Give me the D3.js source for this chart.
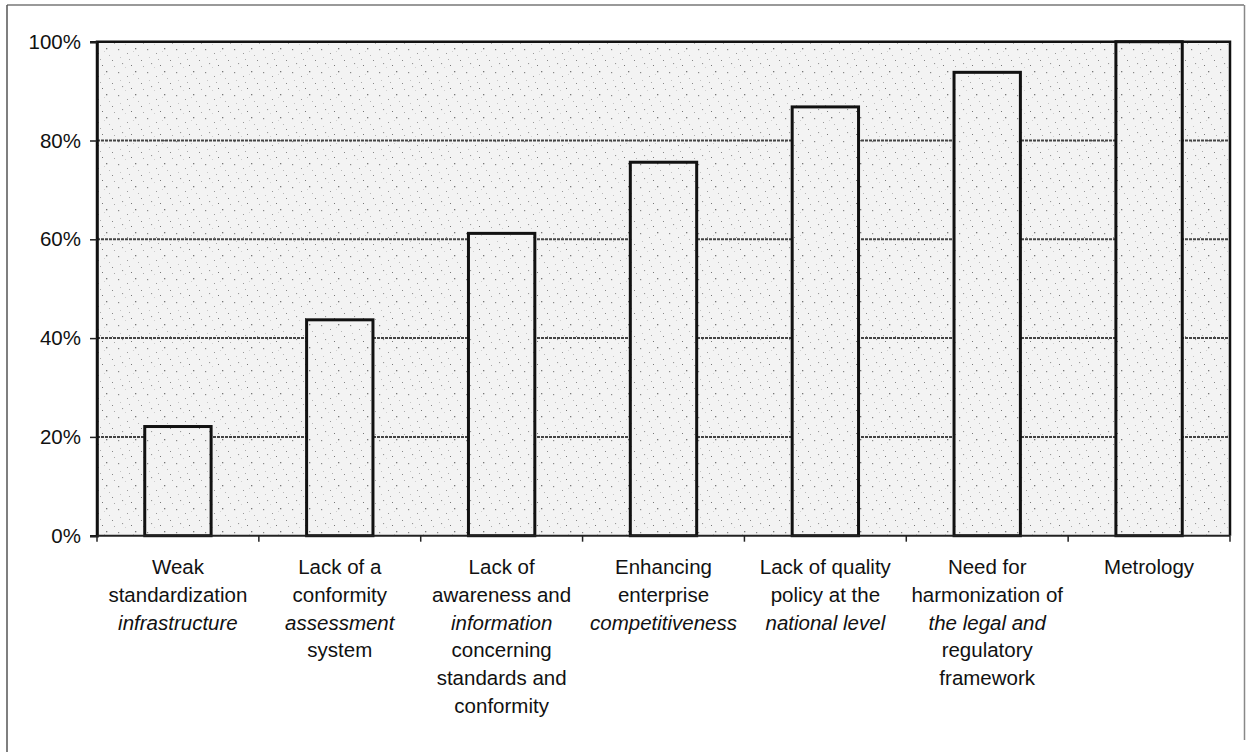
<!DOCTYPE html>
<html>
<head>
<meta charset="utf-8">
<script src="https://cdn.jsdelivr.net/npm/d3@7"></script>
<style>
  html, body { margin: 0; padding: 0; background: #fff; }
  svg { display: block; font-family: Arial, "Liberation Sans", sans-serif; }
</style>
</head>
<body>
<svg id="chart" width="1246" height="752"></svg>
<script>
// ---- data ----
const categories = [
  "Weak standardization infrastructure",
  "Lack of a conformity assessment system",
  "Lack of awareness and information concerning standards and conformity",
  "Enhancing enterprise competitiveness",
  "Lack of quality policy at the national level",
  "Need for harmonization of the legal and regulatory framework",
  "Metrology"
];
const values = [22.1, 43.7, 61.2, 75.6, 86.8, 93.8, 100];
const tickValues = [0, 20, 40, 60, 80, 100];
const tickLabels = ["0%", "20%", "40%", "60%", "80%", "100%"];
// label lines: [text, italic]
const labelLines = [
  [["Weak", false], ["standardization", false], ["infrastructure", true]],
  [["Lack of a", false], ["conformity", false], ["assessment", true], ["system", false]],
  [["Lack of", false], ["awareness and", false], ["information", true], ["concerning", false], ["standards and", false], ["conformity", false]],
  [["Enhancing", false], ["enterprise", false], ["competitiveness", true]],
  [["Lack of quality", false], ["policy at the", false], ["national level", true]],
  [["Need for", false], ["harmonization of", false], ["the legal and", true], ["regulatory", false], ["framework", false]],
  [["Metrology", false]]
];

// ---- layout ----
const svg = d3.select("#chart");
const plot = { left: 97, right: 1230, top: 41.7, bottom: 535.7 };

const x = d3.scaleBand().domain(categories).range([plot.left, plot.right]).padding(0);
const y = d3.scaleLinear().domain([0, 100]).range([plot.bottom, plot.top]);
const barW = x.bandwidth() * 0.41;

// speckle pattern (decorative texture)
const defs = svg.append("defs");
const pat = defs.append("pattern").attr("id", "speck").attr("patternUnits", "userSpaceOnUse")
  .attr("width", 29).attr("height", 23);
pat.append("rect").attr("width", 29).attr("height", 23).attr("fill", "#f3f3f3");
const specks = [[2,3,1.2,"#888"],[11,7,1,"#999"],[19,2,1.3,"#777"],[25,14,1,"#888"],[6,17,1.1,"#999"],
  [15,19,1,"#777"],[22,9,0.9,"#aaa"],[4,11,0.8,"#aaa"],[13,13,1,"#aaa"],[27,20,0.9,"#999"],[9,21,0.8,"#bbb"],[17,5,0.8,"#bbb"]];
specks.forEach(s => pat.append("rect").attr("x", s[0]).attr("y", s[1]).attr("width", s[2]).attr("height", s[2]).attr("fill", s[3]));

// outer frame
svg.append("line").attr("x1", 7).attr("x2", 1244).attr("y1", 5).attr("y2", 5).attr("stroke", "#777").attr("stroke-width", 1.5);
svg.append("line").attr("x1", 7).attr("x2", 7).attr("y1", 5).attr("y2", 752).attr("stroke", "#555").attr("stroke-width", 1.5);
svg.append("line").attr("x1", 1244.5).attr("x2", 1244.5).attr("y1", 5).attr("y2", 740).attr("stroke", "#888").attr("stroke-width", 1.5);

// plot background
svg.append("rect").attr("x", plot.left).attr("y", plot.top)
  .attr("width", plot.right - plot.left).attr("height", plot.bottom - plot.top)
  .attr("fill", "url(#speck)");

// gridlines
svg.append("g").selectAll("line").data(tickValues.filter(v => v > 0 && v < 100)).join("line")
  .attr("x1", plot.left).attr("x2", plot.right)
  .attr("y1", d => y(d)).attr("y2", d => y(d))
  .attr("stroke", "#444").attr("stroke-width", 2).attr("stroke-dasharray", "3,1");

// bars
svg.append("g").selectAll("rect").data(values).join("rect")
  .attr("x", (d, i) => x(categories[i]) + (x.bandwidth() - barW) / 2)
  .attr("y", d => y(d))
  .attr("width", barW)
  .attr("height", d => y(0) - y(d))
  .attr("fill", "url(#speck)")
  .attr("stroke", "#111").attr("stroke-width", 3);

// plot border (top, left, right)
svg.append("path")
  .attr("d", `M${plot.left},${plot.bottom}V${plot.top}H${plot.right}V${plot.bottom}`)
  .attr("fill", "none").attr("stroke", "#111").attr("stroke-width", 2.5);

// y axis
const yAxis = d3.axisLeft(y).tickValues(tickValues).tickFormat((d, i) => tickLabels[i]).tickSize(7).tickPadding(9);
const gy = svg.append("g").attr("transform", `translate(${plot.left},0)`).call(yAxis);
gy.select(".domain").attr("stroke", "#111").attr("stroke-width", 2.5);
gy.selectAll(".tick line").attr("stroke", "#222").attr("stroke-width", 1.5);
gy.selectAll(".tick text").attr("font-size", "20.5px").attr("fill", "#111")
  .attr("font-family", "Arial, 'Liberation Sans', sans-serif");

// x axis (ticks between categories)
const boundaries = d3.range(categories.length + 1).map(i => plot.left + i * x.step());
svg.append("line").attr("x1", plot.left).attr("x2", plot.right)
  .attr("y1", plot.bottom).attr("y2", plot.bottom).attr("stroke", "#222").attr("stroke-width", 2);
svg.append("g").selectAll("line").data(boundaries).join("line")
  .attr("x1", d => d).attr("x2", d => d)
  .attr("y1", plot.bottom).attr("y2", plot.bottom + 6)
  .attr("stroke", "#222").attr("stroke-width", 1.5);

// category labels
const lblG = svg.append("g").attr("font-size", "20.5px").attr("fill", "#111").attr("text-anchor", "middle");
labelLines.forEach((lines, i) => {
  const cx = x(categories[i]) + x.bandwidth() / 2;
  const t = lblG.append("text").attr("x", cx).attr("y", 574);
  lines.forEach((ln, j) => {
    t.append("tspan").attr("x", cx).attr("y", 574 + j * 27.8)
      .attr("font-style", ln[1] ? "italic" : "normal")
      .text(ln[0]);
  });
});
</script>
</body>
</html>
